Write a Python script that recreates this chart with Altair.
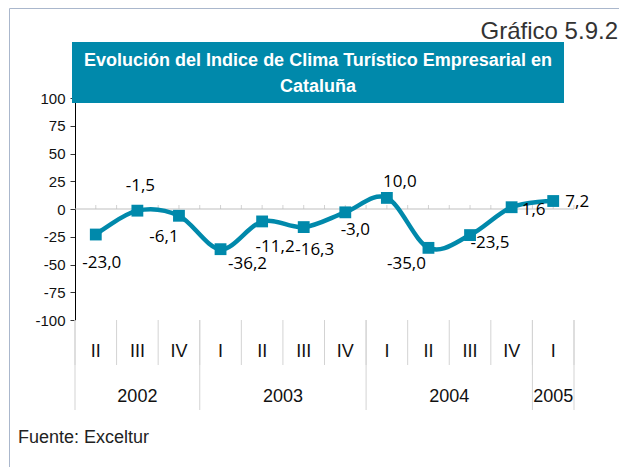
import altair as alt
import pandas as pd

# ---- data ----
quarters = ["II", "III", "IV", "I", "II", "III", "IV", "I", "II", "III", "IV", "I"]
years = [2002, 2002, 2002, 2003, 2003, 2003, 2003, 2004, 2004, 2004, 2004, 2005]
values = [-23.0, -1.5, -6.1, -36.2, -11.2, -16.3, -3.0, 10.0, -35.0, -23.5, 1.6, 7.2]
y_ticks = [100, 75, 50, 25, 0, -25, -50, -75, -100]

title_lines = ["Evolución del Indice de Clima Turístico Empresarial en", "Cataluña"]
chart_number = "Gráfico 5.9.2"
source_text = "Fuente: Exceltur"

# label placement (pixel offsets from each point), styling only
label_dx = [6, 3, -15, 27, 13, 11, 10, 13, -22, 20, 22, 24]
label_dy = [28, -25, 21, 15, 26, 23, 18, -16, 16, 8, 3, 1]

TEAL = "#0089ab"
W, H = 499, 222
FONT = "Liberation Sans"

n = len(values)
df = pd.DataFrame({
    "i": list(range(n)),
    "q": quarters,
    "year": years,
    "v": values,
    "label": [f"{v:.1f}".replace(".", ",") for v in values],
})

# year groups
groups = []
for y in sorted(set(years)):
    idx = [k for k, yy in enumerate(years) if yy == y]
    groups.append({"year": str(y), "c": (idx[0] + idx[-1]) / 2, "start": idx[0] - 0.5})
df_years = pd.DataFrame(groups)
df_yb = pd.DataFrame({"b": [g["start"] for g in groups] + [n - 0.5]})
df_qb = pd.DataFrame({"b": [k - 0.5 for k in range(n + 1)]})
df_zt = pd.DataFrame({"t": [k / 2 for k in range(0, 2 * n)], "v": 0.0})
df_zero = pd.DataFrame({"x0": [-0.5], "x1": [n - 0.5], "v": [0.0]})
one = pd.DataFrame({"a": [0]})

xs = alt.Scale(domain=[-0.5, n - 0.5], nice=False, zero=False)
ys = alt.Scale(domain=[-100, 100], nice=False, zero=False)

y_axis = alt.Axis(values=y_ticks, title=None, grid=False, domainColor="#000000",
                  tickColor="#333333", tickSize=5, labelPadding=5, labelOverlap=False,
                  labelFont=FONT, labelFontSize=15, labelColor="#111111",
                  labelExpr="datum.value < 0 ? '-' + abs(datum.value) : '' + datum.value")


def X(field):
    return alt.X(field, scale=xs, axis=None)


def Y(field):
    return alt.Y(field, scale=ys, axis=y_axis)


line = alt.Chart(df).mark_line(color=TEAL, strokeWidth=4.5, interpolate="cardinal").encode(
    x=X("i:Q"), y=Y("v:Q")
)
squares = alt.Chart(df).mark_square(color=TEAL, size=140, opacity=1).encode(
    x=X("i:Q"), y=Y("v:Q")
)

zero_line = alt.Chart(df_zero).mark_rule(color="#bfbfbf", strokeWidth=1).encode(
    x=X("x0:Q"), x2="x1:Q", y=Y("v:Q")
)
zero_ticks = alt.Chart(df_zt).mark_tick(orient="vertical", size=4, thickness=1,
                                        color="#bfbfbf", yOffset=-2).encode(
    x=X("t:Q"), y=Y("v:Q")
)

labels = []
for k in range(n):
    labels.append(
        alt.Chart(df).transform_filter(alt.datum.i == k).mark_text(
            dx=label_dx[k], dy=label_dy[k], font="Open Sans", fontSize=17,
            color="#000000", align="center", baseline="middle"
        ).encode(x=X("i:Q"), y=Y("v:Q"), text="label:N")
    )

# category table under the plot
q_sep = alt.Chart(df_qb).mark_rule(color="#d3d3d3", strokeWidth=1).encode(
    x=X("b:Q"), y=alt.value(H), y2=alt.value(H + 45)
)
y_sep = alt.Chart(df_yb).mark_rule(color="#d3d3d3", strokeWidth=1).encode(
    x=X("b:Q"), y=alt.value(H), y2=alt.value(H + 90)
)
q_text = alt.Chart(df).mark_text(font=FONT, fontSize=18, color="#111111",
                                 baseline="middle").encode(
    x=X("i:Q"), y=alt.value(H + 32), text="q:N"
)
yr_text = alt.Chart(df_years).mark_text(font=FONT, fontSize=18, color="#111111",
                                        baseline="middle").encode(
    x=X("c:Q"), y=alt.value(H + 77), text="year:N"
)

# title box
title_box = alt.Chart(one).mark_rect(color=TEAL).encode(
    x=alt.value(-3), x2=alt.value(489), y=alt.value(-56), y2=alt.value(5)
)
title_layers = []
for j, t in enumerate(title_lines):
    title_layers.append(
        alt.Chart(pd.DataFrame({"t": [t]})).mark_text(
            font=FONT, fontSize=18, fontWeight="bold", color="#ffffff", align="center",
            baseline="middle"
        ).encode(x=alt.value(243), y=alt.value(-37 + 26 * j), text="t:N")
    )

number_txt = alt.Chart(pd.DataFrame({"t": [chart_number]})).mark_text(
    font=FONT, fontSize=24, color="#333333", align="right", baseline="alphabetic"
).encode(x=alt.value(543), y=alt.value(-59), text="t:N")

source_txt = alt.Chart(pd.DataFrame({"t": [source_text]})).mark_text(
    font=FONT, fontSize=18, color="#222222", align="left", baseline="middle"
).encode(x=alt.value(-57), y=alt.value(340), text="t:N")

# outer frame (only its top and left edges fall inside the page)
frame = alt.Chart(one).mark_rect(fill="transparent", stroke="#aab7cc", strokeWidth=1).encode(
    x=alt.value(-65.5), x2=alt.value(620), y=alt.value(-89.5), y2=alt.value(420)
)

chart = alt.layer(
    frame, zero_line, zero_ticks, q_sep, y_sep, q_text, yr_text,
    line, squares, *labels, title_box, *title_layers, number_txt, source_txt
).properties(
    width=W, height=H,
    padding={"left": 67, "top": 90, "right": 45, "bottom": 147},
    autosize="none",
    background="#ffffff",
).configure_view(strokeWidth=0, stroke="transparent")

chart.save("out.html", embed_options={"renderer": "svg", "actions": False})
